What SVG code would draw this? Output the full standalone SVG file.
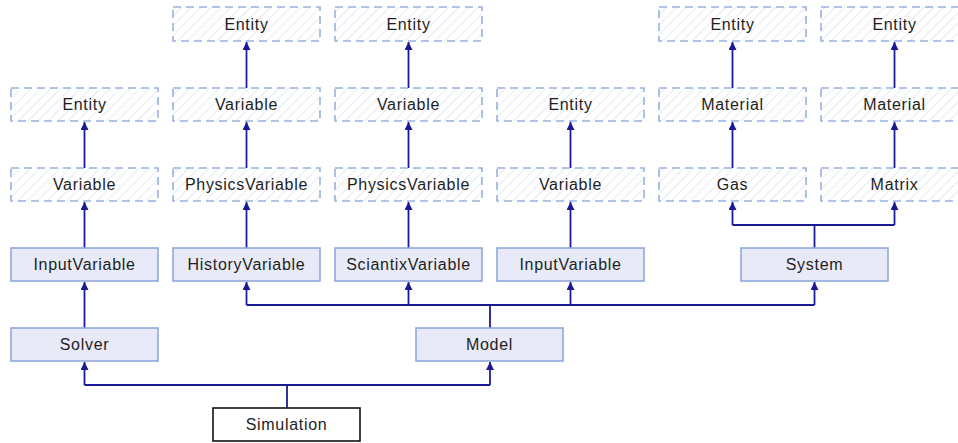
<svg xmlns="http://www.w3.org/2000/svg" width="958" height="443" viewBox="0 0 958 443">
<style>
text{font-family:"Liberation Sans",Arial,sans-serif;font-size:16px;letter-spacing:0.7px;fill:#1e1e1e;text-anchor:middle}
.s{fill:#e8eaf7;stroke:#8fa8dc;stroke-width:1.6}
.d{fill:url(#hatch);stroke:#98b0e0;stroke-width:1.6;stroke-dasharray:8 5}
.w{fill:#fff;stroke:#111;stroke-width:1.6}
.c{fill:none;stroke:#1a1a96;stroke-width:1.8;marker-end:url(#ah)}
.n{fill:none;stroke:#1a1a96;stroke-width:1.8}
</style>
<defs>
<pattern id="hatch" width="7" height="7" patternUnits="userSpaceOnUse" patternTransform="rotate(45)">
<rect width="7" height="7" fill="#fff"/>
<line x1="0" y1="0" x2="0" y2="7" stroke="#e6eaf4" stroke-width="2"/>
</pattern>
<marker id="ah" viewBox="0 0 10 10" refX="10" refY="5" markerWidth="8" markerHeight="8" markerUnits="userSpaceOnUse" orient="auto">
<path d="M0,0 L10,5 L0,10 z" fill="#1a1a96"/>
</marker>
</defs>
<g id="connectors">
<path class="c" d="M246.5,88 V42"/>
<path class="c" d="M408.5,88 V42"/>
<path class="c" d="M732.5,88 V42"/>
<path class="c" d="M894.5,88 V42"/>
<path class="c" d="M84.5,168 V122"/>
<path class="c" d="M246.5,168 V122"/>
<path class="c" d="M408.5,168 V122"/>
<path class="c" d="M570.5,168 V122"/>
<path class="c" d="M732.5,168 V122"/>
<path class="c" d="M894.5,168 V122"/>
<path class="c" d="M84.5,248 V202"/>
<path class="c" d="M246.5,248 V202"/>
<path class="c" d="M408.5,248 V202"/>
<path class="c" d="M570.5,248 V202"/>
<path class="n" d="M814.5,248 V225 M732.5,225 H894.5"/>
<path class="c" d="M732.5,225 V202"/>
<path class="c" d="M894.5,225 V202"/>
<path class="c" d="M84.5,328 V282"/>
<path class="n" d="M490,328 V305 M246.5,305 H814.5"/>
<path class="c" d="M246.5,305 V282"/>
<path class="c" d="M408.5,305 V282"/>
<path class="c" d="M570.5,305 V282"/>
<path class="c" d="M814.5,305 V282"/>
<path class="n" d="M287,408 V385 M84.5,385 H490"/>
<path class="c" d="M84.5,385 V362"/>
<path class="c" d="M490,385 V362"/>
</g>
<g id="entity2"><rect class="d" x="173" y="7" width="147" height="34"/><text x="246.5" y="30">Entity</text></g>
<g id="entity3"><rect class="d" x="335" y="7" width="147" height="34"/><text x="408.5" y="30">Entity</text></g>
<g id="entity5"><rect class="d" x="659" y="7" width="147" height="34"/><text x="732.5" y="30">Entity</text></g>
<g id="entity6"><rect class="d" x="821" y="7" width="147" height="34"/><text x="894.5" y="30">Entity</text></g>
<g id="entity1"><rect class="d" x="11" y="88" width="147" height="33"/><text x="84.5" y="110">Entity</text></g>
<g id="variable2"><rect class="d" x="173" y="88" width="147" height="33"/><text x="246.5" y="110">Variable</text></g>
<g id="variable3"><rect class="d" x="335" y="88" width="147" height="33"/><text x="408.5" y="110">Variable</text></g>
<g id="entity4"><rect class="d" x="497" y="88" width="147" height="33"/><text x="570.5" y="110">Entity</text></g>
<g id="material5"><rect class="d" x="659" y="88" width="147" height="33"/><text x="732.5" y="110">Material</text></g>
<g id="material6"><rect class="d" x="821" y="88" width="147" height="33"/><text x="894.5" y="110">Material</text></g>
<g id="variable1"><rect class="d" x="11" y="168" width="147" height="33"/><text x="84.5" y="190">Variable</text></g>
<g id="physicsvariable2"><rect class="d" x="173" y="168" width="147" height="33"/><text x="246.5" y="190">PhysicsVariable</text></g>
<g id="physicsvariable3"><rect class="d" x="335" y="168" width="147" height="33"/><text x="408.5" y="190">PhysicsVariable</text></g>
<g id="variable4"><rect class="d" x="497" y="168" width="147" height="33"/><text x="570.5" y="190">Variable</text></g>
<g id="gas"><rect class="d" x="659" y="168" width="147" height="33"/><text x="732.5" y="190">Gas</text></g>
<g id="matrix"><rect class="d" x="821" y="168" width="147" height="33"/><text x="894.5" y="190">Matrix</text></g>
<g id="inputvariable1"><rect class="s" x="11" y="248" width="147" height="33"/><text x="84.5" y="270">InputVariable</text></g>
<g id="historyvariable"><rect class="s" x="173" y="248" width="147" height="33"/><text x="246.5" y="270">HistoryVariable</text></g>
<g id="sciantixvariable"><rect class="s" x="335" y="248" width="147" height="33"/><text x="408.5" y="270">SciantixVariable</text></g>
<g id="inputvariable2"><rect class="s" x="497" y="248" width="147" height="33"/><text x="570.5" y="270">InputVariable</text></g>
<g id="system"><rect class="s" x="741" y="248" width="147" height="33"/><text x="814.5" y="270">System</text></g>
<g id="solver"><rect class="s" x="11" y="328" width="147" height="33"/><text x="84.5" y="350">Solver</text></g>
<g id="model"><rect class="s" x="416" y="328" width="147" height="33"/><text x="489.5" y="350">Model</text></g>
<g id="simulation"><rect class="w" x="213" y="408" width="147" height="33"/><text x="286.5" y="430">Simulation</text></g>
</svg>
